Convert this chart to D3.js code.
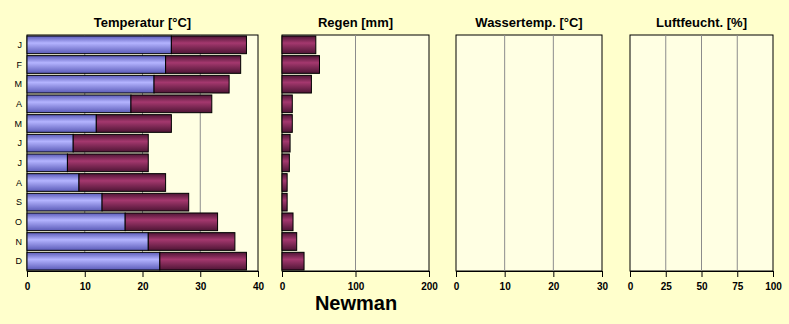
<!DOCTYPE html>
<html><head><meta charset="utf-8">
<script src="https://cdn.jsdelivr.net/npm/d3@7"></script>
<style>body{margin:0;background:#FFFFCC;}svg{display:block;}</style>
</head><body>
<script>
const months = ["J","F","M","A","M","J","J","A","S","O","N","D"];
const tempMin = [25,24,22,18,12,8,7,9,13,17,21,23];
const tempMax = [38,37,35,32,25,21,21,24,28,33,36,38];
const rain = [46,51,40,14,14,11,10,7,7,15,20,30];
const tempTicks = [0,10,20,30,40];
const rainTicks = [0,100,200];
const waterTicks = [0,10,20,30];
const humTicks = [0,25,50,75,100];
const station = "Newman";

const W = 789, H = 324;
const svg = d3.select("body").append("svg").attr("width", W).attr("height", H);
svg.append("rect").attr("width", W).attr("height", H).attr("fill", "#FFFFCC");

const defs = svg.append("defs");
function grad(id, edge, mid) {
  const g = defs.append("linearGradient").attr("id", id).attr("x1",0).attr("y1",0).attr("x2",0).attr("y2",1);
  g.append("stop").attr("offset","0%").attr("stop-color", edge);
  g.append("stop").attr("offset","40%").attr("stop-color", mid);
  g.append("stop").attr("offset","100%").attr("stop-color", edge);
}
grad("gBlue", "#5b5bb8", "#b4b4ff");
grad("gRed", "#4e1535", "#a4386e");

const plotTop = 35, plotBottom = 271;
const y = d3.scaleBand().domain(d3.range(12)).range([plotTop, plotBottom]).paddingInner(0.1).paddingOuter(0.05);

function panel(x0, x1, maxV, ticks, title, grid) {
  const x = d3.scaleLinear().domain([0, maxV]).range([x0, x1]);
  const g = svg.append("g");
  g.append("rect").attr("x", x0).attr("y", plotTop).attr("width", x1 - x0).attr("height", plotBottom - plotTop)
    .attr("fill", "#FFFFE3").attr("stroke", "#000").attr("stroke-width", 1);
  g.selectAll(".grid").data(grid).enter().append("line")
    .attr("x1", d => x(d)).attr("x2", d => x(d)).attr("y1", plotTop).attr("y2", plotBottom)
    .attr("stroke", "#8c8c8c").attr("stroke-width", 1);
  const ax = g.append("g").attr("transform", `translate(0,${plotBottom})`)
    .call(d3.axisBottom(x).tickValues(ticks).tickSize(6).tickPadding(6).tickFormat(d3.format("d")));
  ax.select(".domain").attr("stroke", "#000");
  ax.selectAll("text").attr("font-family", "Arial, 'Liberation Sans', sans-serif").attr("font-size", 10)
    .attr("font-weight", "bold").attr("fill", "#000");
  g.append("text").attr("x", (x0 + x1) / 2).attr("y", 27).attr("text-anchor", "middle")
    .attr("font-family", "Arial, 'Liberation Sans', sans-serif").attr("font-size", 13).attr("font-weight", "bold")
    .text(title);
  return {g, x};
}

// Temperature
const p1 = panel(27, 258, 40, tempTicks, "Temperatur [°C]", [10,20,30]);
p1.g.selectAll(".bmin").data(tempMin).enter().append("rect")
  .attr("x", p1.x(0)).attr("y", (d,i) => y(i)).attr("width", d => p1.x(d) - p1.x(0)).attr("height", y.bandwidth())
  .attr("fill", "url(#gBlue)").attr("stroke", "#000").attr("stroke-width", 1);
p1.g.selectAll(".bmax").data(tempMax).enter().append("rect")
  .attr("x", (d,i) => p1.x(tempMin[i])).attr("y", (d,i) => y(i))
  .attr("width", (d,i) => p1.x(d) - p1.x(tempMin[i])).attr("height", y.bandwidth())
  .attr("fill", "url(#gRed)").attr("stroke", "#000").attr("stroke-width", 1);
svg.selectAll(".mlab").data(months).enter().append("text")
  .attr("x", 22).attr("y", (d,i) => y(i) + y.bandwidth()/2 + 3).attr("text-anchor", "end")
  .attr("font-family", "Arial, 'Liberation Sans', sans-serif").attr("font-size", 9).text(d => d);

// Rain
const p2 = panel(282, 429, 200, rainTicks, "Regen [mm]", [100]);
p2.g.selectAll(".br").data(rain).enter().append("rect")
  .attr("x", p2.x(0)).attr("y", (d,i) => y(i)).attr("width", d => p2.x(d) - p2.x(0)).attr("height", y.bandwidth())
  .attr("fill", "url(#gRed)").attr("stroke", "#000").attr("stroke-width", 1);

// Water temp
panel(456, 602, 30, waterTicks, "Wassertemp. [°C]", [10,20]);
// Humidity
panel(630, 773, 100, humTicks, "Luftfeucht. [%]", [25,50,75]);

svg.append("text").attr("x", 356).attr("y", 310).attr("text-anchor", "middle")
  .attr("font-family", "Arial, 'Liberation Sans', sans-serif").attr("font-size", 20).attr("font-weight", "bold")
  .text(station);
</script>
</body></html>
